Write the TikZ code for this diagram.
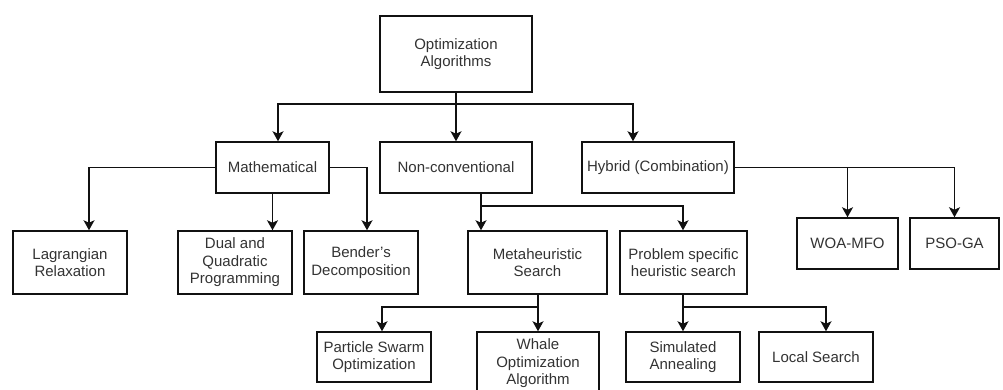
\documentclass[tikz,border=0pt]{standalone}
\usepackage{fontspec}
\setmainfont{Liberation Sans}
\usetikzlibrary{arrows.meta}
\definecolor{txt}{HTML}{333333}
\definecolor{ln}{HTML}{111111}
\begin{document}
\begin{tikzpicture}[x=1pt,y=-1pt,
  box/.style={draw=ln,line width=1.5pt,fill=white,align=center,inner sep=0pt,
    text=txt,font=\fontsize{15pt}{17.5pt}\selectfont},
  conn/.style={draw=ln,line width=1.5pt,-{Stealth[length=10pt,width=11pt,inset=2.5pt]}},
  plain/.style={draw=ln,line width=1.5pt}]
\useasboundingbox (0,0) rectangle (1003,390);
\clip (0,0) rectangle (1003,390);
\fill[white] (0,0) rectangle (1003,390);
% nodes
\node[box,minimum width=152pt,minimum height=76pt] (top) at (456,54) {Optimization\\Algorithms};
\node[box,minimum width=113pt,minimum height=51pt] (math) at (272.5,167.5) {Mathematical};
\node[box,minimum width=152pt,minimum height=51pt] (nonc) at (456,167.5) {Non-conventional};
\node[box,minimum width=152pt,minimum height=51pt] (hyb) at (658,167.5) {Hybrid (Combination)};
\node[box,minimum width=114pt,minimum height=63pt] (lag) at (70,262.5) {Lagrangian\\Relaxation};
\node[box,minimum width=114pt,minimum height=63pt] (dual) at (235,262.5) {Dual and\\Quadratic\\Programming};
\node[box,minimum width=114pt,minimum height=63pt] (bend) at (361,262.5) {Bender's\\Decomposition};
\node[box,minimum width=139pt,minimum height=63pt] (meta) at (537.5,262.5) {Metaheuristic\\Search};
\node[box,minimum width=127pt,minimum height=63pt] (prob) at (683.5,262.5) {Problem specific\\heuristic search};
\node[box,minimum width=114pt,minimum height=50pt] (pso) at (374,357) {Particle Swarm\\Optimization};
\node[box,minimum width=122pt,minimum height=63pt] (whale) at (538,363.5) {Whale\\Optimization\\Algorithm};
\node[box,minimum width=114pt,minimum height=50pt] (sa) at (683,357) {Simulated\\Annealing};
\node[box,minimum width=114pt,minimum height=50pt] (ls) at (816,357) {Local Search};
\node[box,minimum width=101pt,minimum height=51pt] (woa) at (847.5,243.5) {WOA-MFO};
\node[box,minimum width=89pt,minimum height=51pt] (psoga) at (954.5,243.5) {PSO-GA};
% junctions
\coordinate (j1) at (456,104);
\coordinate (j2) at (481,206);
\coordinate (j3) at (538,307);
\coordinate (j4) at (683,307);
% connectors
\draw[conn] (top.south) -- (nonc.north);
\draw[conn] (j1) -| ([xshift=5.5pt]math.north);
\draw[conn] (j1) -| ([xshift=-25pt]hyb.north);
\draw[conn] (math.west) -| ([xshift=19pt]lag.north);
\draw[conn] (math.south) -- (math.south |- dual.north);
\draw[conn] (math.east) -| ([xshift=6pt]bend.north);
\draw[conn] ([xshift=25pt]nonc.south) -- ([xshift=-56.5pt]meta.north);
\draw[conn] (j2) -| (prob.north -| j4);
\draw[conn] (meta.south -| j3) -- (whale.north -| j3);
\draw[conn] (j3) -| ([xshift=8pt]pso.north);
\draw[conn] (prob.south -| j4) -- (sa.north);
\draw[conn] (j4) -| ([xshift=10pt]ls.north);
\draw[plain] (hyb.east) -- (955,167.5);
\draw[conn] (woa.north |- hyb.east) -- (woa.north);
\draw[conn] (psoga.north |- hyb.east) -- (psoga.north);
\end{tikzpicture}
\end{document}
